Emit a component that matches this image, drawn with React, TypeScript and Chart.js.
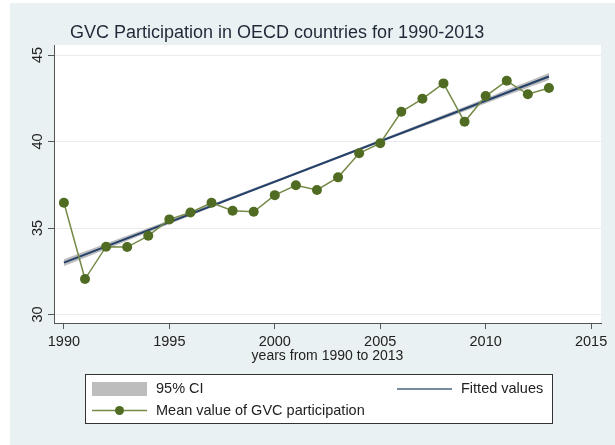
import React, { useEffect, useRef } from 'react';
import { Chart, registerables } from 'chart.js';

Chart.register(...registerables);

const years = [1990, 1991, 1992, 1993, 1994, 1995, 1996, 1997, 1998, 1999, 2000, 2001, 2002, 2003, 2004, 2005, 2006, 2007, 2008, 2009, 2010, 2011, 2012, 2013];
const meanGvc = [36.46, 32.05, 33.92, 33.9, 34.55, 35.5, 35.9, 36.46, 36.0, 35.94, 36.9, 37.47, 37.2, 37.93, 39.32, 39.9, 41.72, 42.47, 43.36, 41.14, 42.63, 43.51, 42.73, 43.09];

const fitYears = [1990, 2013];
const fitValues = [33.0, 43.76];

const ciYears = [1990, 1996, 2001.5, 2007, 2013];
const ciLower = [32.8, 35.71, 38.31, 40.85, 43.56];
const ciUpper = [33.2, 35.91, 38.45, 41.05, 43.96];

const xTicks = [1990, 1995, 2000, 2005, 2010, 2015];
const yTicks = [30, 35, 40, 45];

const titleText = 'GVC Participation in OECD countries for 1990-2013';
const xTitleText = 'years from 1990 to 2013';
const legendCI = '95% CI';
const legendFit = 'Fitted values';
const legendMean = 'Mean value of GVC participation';

const FONT = '"Liberation Sans", Arial, Helvetica, sans-serif';
const GREEN_LINE = '#768a48';
const GREEN_MARK = '#4f6c22';
const NAVY = '#23406b';
const CI_FILL = 'rgba(165,165,165,0.75)';
const AXIS = '#555555';
const TEXT = '#222222';

const decorPlugin = {
  id: 'stataDecor',
  beforeDraw(chart: any) {
    const { ctx, chartArea: a, width, height } = chart;
    ctx.save();
    ctx.fillStyle = '#ffffff';
    ctx.fillRect(0, 0, width, height);
    ctx.fillStyle = '#eaf1f3';
    ctx.fillRect(10, 3, width - 10, height - 3);
    ctx.fillStyle = '#ffffff';
    ctx.fillRect(a.left, a.top, a.right - a.left, a.bottom - a.top);
    ctx.restore();
  },
  afterDraw(chart: any) {
    const ctx = chart.ctx;
    ctx.save();
    // title
    ctx.fillStyle = '#1f2a38';
    ctx.font = `18px ${FONT}`;
    ctx.textAlign = 'left';
    ctx.textBaseline = 'alphabetic';
    ctx.fillText(titleText, 70, 38);

    // legend box
    ctx.fillStyle = '#ffffff';
    ctx.fillRect(86, 375, 467, 49);
    ctx.strokeStyle = '#333333';
    ctx.lineWidth = 1;
    ctx.strokeRect(85.5, 374.5, 467, 49);

    const ds = chart.data.datasets;
    // CI swatch
    ctx.fillStyle = '#bdbdbd';
    ctx.fillRect(92, 382, 55, 14);
    // mean line + marker
    ctx.strokeStyle = ds[0].borderColor;
    ctx.lineWidth = 1.5;
    ctx.beginPath();
    ctx.moveTo(92, 410.5);
    ctx.lineTo(147, 410.5);
    ctx.stroke();
    ctx.fillStyle = ds[0].pointBackgroundColor;
    ctx.beginPath();
    ctx.arc(119.5, 410.5, 4.5, 0, Math.PI * 2);
    ctx.fill();
    // fitted line
    ctx.strokeStyle = '#4a6580';
    ctx.lineWidth = 1.5;
    ctx.beginPath();
    ctx.moveTo(397, 389);
    ctx.lineTo(452, 389);
    ctx.stroke();

    ctx.fillStyle = TEXT;
    ctx.font = `14.5px ${FONT}`;
    ctx.textBaseline = 'middle';
    ctx.fillText(legendCI, 156, 389);
    ctx.fillText(legendMean, 156, 411);
    ctx.fillText(legendFit, 461, 389);
    ctx.restore();
  },
};

export default function App() {
  const ref = useRef<HTMLCanvasElement | null>(null);

  useEffect(() => {
    if (!ref.current) return;
    const chart = new Chart(ref.current, {
      type: 'line',
      data: {
        datasets: [
          {
            label: legendMean,
            data: years.map((x, i) => ({ x, y: meanGvc[i] })),
            borderColor: GREEN_LINE,
            borderWidth: 1.5,
            pointRadius: 5,
            pointBackgroundColor: GREEN_MARK,
            pointBorderColor: GREEN_MARK,
            pointBorderWidth: 0,
            fill: false,
            tension: 0,
          },
          {
            label: legendFit,
            data: fitYears.map((x, i) => ({ x, y: fitValues[i] })),
            borderColor: NAVY,
            borderWidth: 2,
            pointRadius: 0,
            fill: false,
            tension: 0,
          },
          {
            label: 'ci-lower',
            data: ciYears.map((x, i) => ({ x, y: ciLower[i] })),
            borderColor: 'rgba(0,0,0,0)',
            borderWidth: 0,
            pointRadius: 0,
            fill: false,
            tension: 0.4,
          },
          {
            label: legendCI,
            data: ciYears.map((x, i) => ({ x, y: ciUpper[i] })),
            borderColor: 'rgba(0,0,0,0)',
            borderWidth: 0,
            pointRadius: 0,
            backgroundColor: CI_FILL,
            fill: '-1',
            tension: 0.4,
          },
        ],
      },
      options: {
        responsive: false,
        animation: false,
        devicePixelRatio: 1,
        layout: { padding: { left: 10, top: 45, right: 14, bottom: 72 } },
        plugins: {
          legend: { display: false },
          tooltip: { enabled: false },
          title: { display: false },
        },
        scales: {
          x: {
            type: 'linear',
            min: 1989.53,
            max: 2015.47,
            afterBuildTicks: (s: any) => {
              s.ticks = xTicks.map((v) => ({ value: v }));
            },
            afterFit: (s: any) => {
              s.height = 50;
            },
            grid: { color: 'rgba(0,0,0,0)', tickColor: AXIS, tickLength: 6, drawTicks: true },
            border: { color: AXIS, width: 1 },
            ticks: {
              color: TEXT,
              font: { family: FONT, size: 14.5 },
              padding: 4,
              maxRotation: 0,
              autoSkip: false,
              callback: (v: any) => String(v),
            },
            title: {
              display: true,
              text: xTitleText,
              color: TEXT,
              font: { family: FONT, size: 14 },
              padding: { top: 0, bottom: 8 },
            },
          },
          y: {
            type: 'linear',
            position: 'left',
            min: 29.51,
            max: 45.58,
            afterBuildTicks: (s: any) => {
              s.ticks = yTicks.map((v) => ({ value: v }));
            },
            afterFit: (s: any) => {
              s.width = 44;
            },
            grid: { color: '#ebebeb', tickColor: AXIS, tickLength: 6, drawTicks: true },
            border: { color: AXIS, width: 1 },
            ticks: {
              color: TEXT,
              font: { family: FONT, size: 14.5 },
              minRotation: 90,
              maxRotation: 90,
              crossAlign: 'center',
              padding: 1.6,
              autoSkip: false,
              callback: (v: any) => String(v),
            },
          },
        },
      },
      plugins: [decorPlugin],
    } as any);
    return () => chart.destroy();
  }, []);

  return (
    <div style={{ position: 'fixed', left: 0, top: 0, width: 615, height: 445 }}>
      <canvas ref={ref} width={615} height={445} style={{ display: 'block' }} />
    </div>
  );
}
